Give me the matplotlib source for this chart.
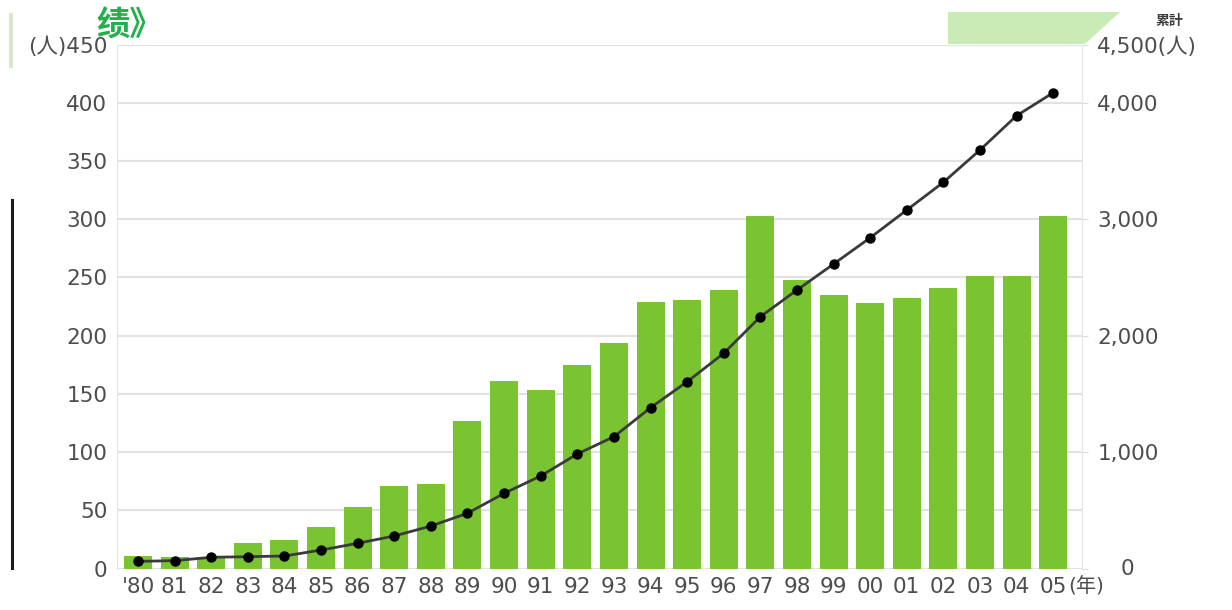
import matplotlib
matplotlib.use("Agg")
import matplotlib.pyplot as plt
from matplotlib.patches import Polygon, Rectangle
from matplotlib.lines import Line2D

# Annual count (left axis) and cumulative total (right axis), 1980-2005
years = ["'80", "81", "82", "83", "84", "85", "86", "87", "88", "89",
         "90", "91", "92", "93", "94", "95", "96", "97", "98", "99",
         "00", "01", "02", "03", "04", "05"]
annual = [11, 10, 10, 22, 25, 36, 53, 71, 73, 127,
          161, 153, 175, 194, 229, 231, 239, 303, 248, 235,
          228, 232, 241, 251, 251, 303]
cumulative = [63, 69, 98, 103, 109, 160, 218, 281, 366, 476,
              647, 796, 985, 1133, 1382, 1605, 1849, 2163, 2392, 2615,
              2841, 3079, 3317, 3594, 3889, 4086]

left_ticks = [0, 50, 100, 150, 200, 250, 300, 350, 400, 450]
left_labels = ["0", "50", "100", "150", "200", "250", "300", "350", "400", "(人)450"]
right_ticks = [0, 1000, 2000, 3000, 4000, 4500]
right_labels = ["", "1,000", "2,000", "3,000", "4,000", "4,500(人)"]

FAM = ["DejaVu Sans", "Noto Sans CJK JP"]
TXT = "#4d4d4d"
BAR = "#7ac432"
GRID = "#e2e2e2"

fig = plt.figure(figsize=(12.32, 6.10), dpi=100)
fig.patch.set_facecolor("white")

ax = fig.add_axes([0.0950, 0.0677, 0.7833, 0.8593])
ax2 = ax.twinx()

x = list(range(len(years)))
ax.bar(x, annual, width=0.765, color=BAR, zorder=2)
ax.set_xlim(-0.574, 25.79)
ax.set_ylim(0, 450)
ax.set_yticks(left_ticks)
ax.set_yticklabels(left_labels, family=FAM, fontsize=15.5, color=TXT)
ax.set_xticks(x)
ax.set_xticklabels(years, family=FAM, fontsize=15.5, color=TXT)
ax.tick_params(axis="y", length=0, pad=7)
ax.tick_params(axis="x", length=0, pad=6)
ax.yaxis.grid(True, color=GRID, linewidth=1.5, zorder=0)
ax.set_axisbelow(True)
for side in ["top", "bottom"]:
    ax.spines[side].set_visible(False)
ax.spines["left"].set_color("#e6e6e6")
ax.spines["right"].set_visible(False)

ax2.plot(x, cumulative, color="#3a3a3a", linewidth=2.0, marker="o",
         markersize=6.5, markerfacecolor="black", markeredgecolor="black", zorder=3)
ax2.set_ylim(0, 4500)
ax2.set_yticks(right_ticks)
ax2.set_yticklabels(right_labels, family=FAM, fontsize=15.5, color=TXT)
ax2.tick_params(axis="y", length=4, color="#dcdcdc", pad=7)
for side in ["top", "bottom", "left"]:
    ax2.spines[side].set_visible(False)
ax2.spines["right"].set_color("#e6e6e6")

# zero label on the right sits a little apart from the others
ax2.text(1.040, 0, "0", transform=ax2.get_yaxis_transform(), ha="left",
         va="center", family=FAM, fontsize=15.5, color=TXT)
# unit for the year axis
ax.text(25.42, -0.016, "(年)", transform=ax.get_xaxis_transform(), ha="left",
        va="top", family=FAM, fontsize=14.5, color=TXT)
# header of the cumulative axis
fig.text(0.938, 0.966, "累計", family=FAM, fontsize=10, color="#3c3c3c",
         ha="left", va="center", fontweight="bold")

# light green banner in the top right corner
fig.patches.append(Polygon([(948 / 1232, 1 - 12 / 610), (1120 / 1232, 1 - 12 / 610),
                            (1085 / 1232, 1 - 44 / 610), (948 / 1232, 1 - 44 / 610)],
                           closed=True, transform=fig.transFigure,
                           facecolor="#c9ebb6", edgecolor="none", zorder=-1))
# green heading fragment in the top left corner
fig.text(0.078, 0.957, "绩》", family=["Noto Sans CJK SC"], fontsize=24,
         color="#23b04b", fontweight="bold", ha="left", va="center")
# thin strips along the left margin
fig.patches.append(Rectangle((9 / 1232, 1 - 68 / 610), 4 / 1232, 55 / 610,
                             transform=fig.transFigure, facecolor="#d8e8cc",
                             edgecolor="none"))
fig.lines.append(Line2D([12 / 1232, 12 / 1232], [1 - 200 / 610, 1 - 568 / 610],
                        transform=fig.transFigure, color="#1a1a1a", linewidth=2.2))

fig.savefig("out.png", dpi=100, facecolor="white")
